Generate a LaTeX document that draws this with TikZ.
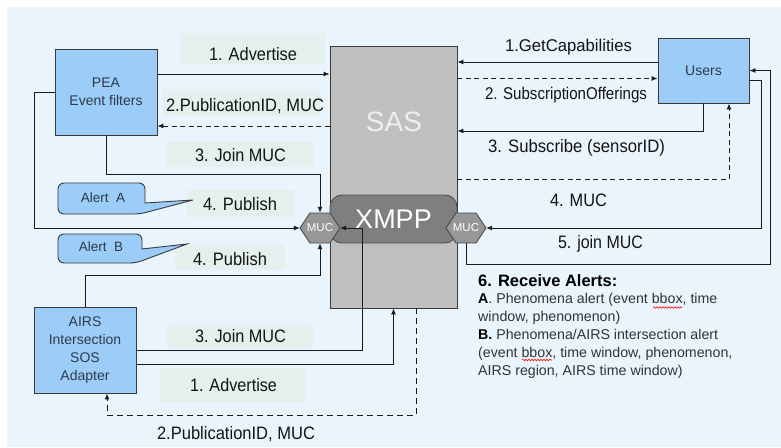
\documentclass[tikz,border=0pt]{standalone}
\usepackage{fontspec}
\setmainfont{Liberation Sans}
\usepackage{graphicx}
\usetikzlibrary{arrows.meta,calc,decorations.pathmorphing}
\definecolor{bgblue}{HTML}{EAF4FC}
\definecolor{labelbg}{HTML}{E3F0EE}
\definecolor{boxblue}{HTML}{9CCCF8}
\definecolor{bordercol}{HTML}{3A3A3A}
\definecolor{sasgray}{HTML}{C0C0C0}
\definecolor{sastext}{HTML}{EEEEEE}
\definecolor{xmppgray}{HTML}{7F7F7F}
\definecolor{xmppborder}{HTML}{505050}
\definecolor{mucgray}{HTML}{979797}
\definecolor{mucborder}{HTML}{4A4A4A}
\definecolor{linecol}{HTML}{1A1A1A}
\definecolor{labeltext}{HTML}{141414}
\definecolor{boxtext}{HTML}{2E3A4A}
\definecolor{paratext}{HTML}{333333}
\newcommand\lw[2]{\resizebox{#1}{\height}{#2}}
\begin{document}
\begin{tikzpicture}[x=1pt,y=-1pt,
  arr/.style={draw=linecol, line width=1pt, -{Latex[length=6pt,width=5pt]}},
  dsh/.style={dash pattern=on 5pt off 3.5pt},
  dshb/.style={dash pattern=on 6pt off 4pt},
  bluebox/.style={draw=bordercol, fill=boxblue, line width=0.9pt, text=boxtext,
    font=\fontsize{14}{17.8}\selectfont, align=center, inner sep=0pt},
  lbl/.style={font=\fontsize{18}{20}\selectfont, text=labeltext, inner sep=0pt},
  lbls/.style={font=\fontsize{17}{20}\selectfont, text=labeltext, inner sep=0pt},
  callout/.style={draw=bordercol, fill=boxblue, line width=0.9pt},
  calltext/.style={font=\fontsize{13.5}{15}\selectfont, text=boxtext, inner sep=0pt},
  hexa/.style={draw=mucborder, fill=mucgray, line width=0.9pt},
  mucnode/.style={minimum width=40pt, minimum height=30pt, inner sep=0pt, text=white,
    font=\fontsize{11.5}{12}\selectfont},
  squig/.style={draw=red, line width=0.6pt, decorate,
    decoration={snake, amplitude=0.8pt, segment length=3pt}},
]
\useasboundingbox (0,0) rectangle (781,447);
\fill[white] (0,0) rectangle (781,447);
\fill[bgblue] (7,7) rectangle (781,447);

% label backgrounds
\fill[labelbg] (180,33) rectangle (325,64);
\fill[labelbg] (163,89) rectangle (320,116);
\fill[labelbg] (167,142) rectangle (313,167);
\fill[labelbg] (187,190) rectangle (295,217);
\fill[labelbg] (175,245) rectangle (285,270);
\fill[labelbg] (167,325) rectangle (313,348);
\fill[labelbg] (160,368) rectangle (305,402);

% main boxes
\node[bluebox, minimum width=102pt, minimum height=86pt] (pea) at (106,92) {PEA\\Event filters};
\node[bluebox, minimum width=91pt, minimum height=65pt] (users) at (703.5,70.5) {Users};
\node[bluebox, minimum width=102pt, minimum height=86pt] (airs) at (85,350) {AIRS\\Intersection\\SOS\\Adapter};

\node[draw=bordercol, fill=sasgray, line width=0.9pt, minimum width=127pt, minimum height=262pt, inner sep=0pt] (sas) at (393.5,177) {};
\node[text=sastext, font=\fontsize{28}{30}\selectfont, inner sep=0pt] (sastitle) at (394,122) {SAS};
\node[draw=xmppborder, fill=xmppgray, rounded corners=12pt, line width=0.9pt, minimum width=127pt, minimum height=48pt, inner sep=0pt, text=white, font=\fontsize{27}{30}\selectfont] (xmpp) at (393.5,219) {XMPP};

% MUC hexagons
\path[hexa] (300,228) -- (310,213) -- (330,213) -- (340,228) -- (330,243) -- (310,243) -- cycle;
\node[mucnode] (mucL) at (320,228) {MUC};
\path[hexa] (446,228) -- (456,213) -- (476,213) -- (486,228) -- (476,243) -- (456,243) -- cycle;
\node[mucnode] (mucR) at (466,228) {MUC};

% callouts
\draw[callout, rounded corners=6pt] (145,203) -- (145,183) -- (58,183) -- (58,214) -- (140,214) [sharp corners] -- (193,200) -- cycle;
\node[calltext] (alertA) at (103,198) {Alert\ \ A};
\draw[callout, rounded corners=6pt] (142,249) -- (142,234) -- (58,234) -- (58,263) -- (136,263) [sharp corners] -- (187,244) -- cycle;
\node[calltext] (alertB) at (101,247) {Alert\ \ B};

% left connectors
\draw[arr] ([yshift=18pt]pea.east) coordinate (a1) -- (a1 -| sas.west);
\coordinate (a2) at ([yshift=-34pt]pea.east);
\draw[arr, dsh] (a2 -| sas.west) -- (a2);
\draw[arr] (pea.south) -- ++(0,39) -| (mucL.north);
\draw[arr] (pea.west) -- ++(-20,0) |- (mucL.west);
\draw[arr] (airs.north) -- ++(0,-31) -| (mucL.south);
\draw[arr] (airs.east) -- ++(226,0) |- (mucL.east);
\draw[arr] ([yshift=-14pt]airs.east) -| (sas.south);
\draw[arr, dshb] ([xshift=22.5pt]sas.south) -- ++(0,107) -| ([xshift=22pt]airs.south);

% right connectors
\coordinate (u1) at ([yshift=8.5pt]users.west);
\draw[arr] (u1) -- (u1 -| sas.east);
\coordinate (u2) at ([yshift=-8pt]users.west);
\draw[arr, dsh] (u2 -| sas.east) -- (u2);
\draw[arr] (users.south) |- ([yshift=46pt]sas.east);
\draw[arr, dsh] ([yshift=-2pt]sas.east) -| ([xshift=25.5pt]users.south);
\draw[arr] ([yshift=-9.5pt]users.east) -- ++(12,0) |- (mucR.east);
\draw[arr] (mucR.south) -- ++(0,21) -| ([xshift=21pt]users.east) -- (users.east);

% labels
\node[lbl] (l1) at (253,54) {\lw{88pt}{1. Advertise}};
\node[lbl] (l2) at (245,106) {\lw{158pt}{2.PublicationID, MUC}};
\node[lbl] (l3) at (240.5,155) {\lw{91pt}{3. Join MUC}};
\node[lbl] (l4) at (240,204) {\lw{74pt}{4. Publish}};
\node[lbl] (l5) at (230,259) {\lw{74pt}{4. Publish}};
\node[lbl] (l6) at (240.5,336) {\lw{91pt}{3. Join MUC}};
\node[lbl] (l7) at (233.5,385) {\lw{87pt}{1. Advertise}};
\node[lbl] (l8) at (236,434) {\lw{158pt}{2.PublicationID, MUC}};
\node[lbls] (r1) at (568.5,47) {\lw{127pt}{1.GetCapabilities}};
\node[lbls] (r2) at (566,95) {\lw{162pt}{2. SubscriptionOfferings}};
\node[lbl] (r3) at (576.5,148) {\lw{177pt}{3. Subscribe (sensorID)}};
\node[lbl] (r4) at (578.5,200) {\lw{57pt}{4. MUC}};
\node[lbl] (r5) at (600.5,244) {\lw{85pt}{5. join MUC}};

% receive alerts text
\node[anchor=north west, align=left, inner sep=0pt, text=paratext,
  font=\fontsize{14.2}{17.8}\selectfont] (rx) at (478,274)
  {{\fontsize{16.5}{17.8}\selectfont\bfseries\color{black}6. Receive Alerts:}\\
   \textbf{\color{black}A}. Phenomena alert (event bbox, time\\
   window, phenomenon)\\
   \textbf{\color{black}B.} Phenomena/AIRS intersection alert\\
   (event bbox, time window, phenomenon,\\
   AIRS region, AIRS time window)};
\draw[squig] (653,307.5) -- (682,307.5);
\draw[squig] (522,360) -- (552,360);
\end{tikzpicture}
\end{document}
